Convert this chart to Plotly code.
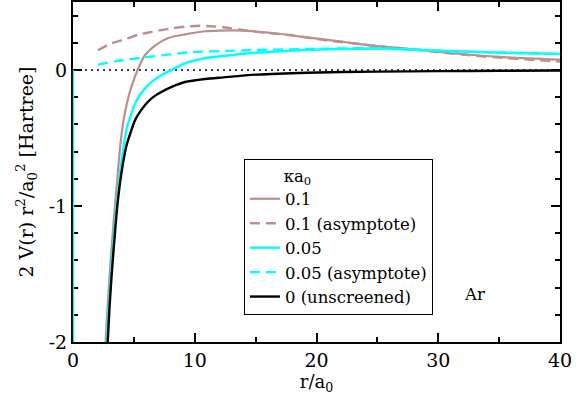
import plotly.graph_objects as go

# ---- data ----
r_k01 = [2.68, 2.83, 3.0, 3.2, 3.42, 3.68, 3.88, 4.13, 4.55, 4.96, 5.31, 5.92, 7.0, 7.83, 9.2,
         10.85, 12.0, 14.0, 16.5, 19.2, 21.9, 24.95, 27.1, 29.9, 32.6, 35.4, 40]
v_k01 = [-2.0, -1.76, -1.52, -1.27, -1.03, -0.76, -0.56, -0.38, -0.2, -0.08, 0.0, 0.11, 0.196,
         0.235, 0.262, 0.285, 0.29, 0.29, 0.27, 0.24, 0.21, 0.176, 0.16, 0.135, 0.112, 0.095, 0.077]

r_k01_asym = [2.05, 3.0, 4.27, 5.37, 6.47, 8.0, 9.2, 10.5, 12.35, 15.1, 17.8, 20.6, 22.8, 24.95,
              27.1, 29.9, 32.6, 35.4, 37.7, 40]
v_k01_asym = [0.145, 0.19, 0.226, 0.26, 0.28, 0.305, 0.318, 0.325, 0.314, 0.28, 0.257, 0.22,
              0.198, 0.176, 0.157, 0.132, 0.108, 0.088, 0.075, 0.062]

r_k005 = [0, 0.05, 2.78, 2.92, 3.1, 3.31, 3.54, 3.83, 4.1, 4.41, 4.77, 5.04, 5.3, 5.92, 6.5, 7.29,
          8.2, 9.2, 10.85, 12.35, 15.1, 19.2, 24.95, 29.9, 35.4, 40]
v_k005 = [0.0, -20.0, -2.0, -1.76, -1.52, -1.27, -1.03, -0.78, -0.6, -0.43, -0.33, -0.26, -0.213,
          -0.135, -0.085, -0.037, 0.005, 0.049, 0.086, 0.103, 0.127, 0.147, 0.158, 0.142, 0.127, 0.118]

r_k005_asym = [2.05, 3.5, 5.9, 8.0, 9.6, 12.35, 15.1, 19.2, 24.95, 29.9, 35.4, 40]
v_k005_asym = [0.04, 0.065, 0.093, 0.115, 0.13, 0.14, 0.147, 0.154, 0.16, 0.143, 0.127, 0.118]

r_k0 = [2.85, 2.99, 3.18, 3.40, 3.64, 3.94, 4.41, 4.77, 5.04, 5.3, 5.92, 6.5, 7.29, 8.2, 9.2,
        10.85, 12.35, 15.1, 19.2, 24.95, 30, 35, 40]
v_k0 = [-2.0, -1.76, -1.5, -1.25, -1.0, -0.78, -0.55, -0.45, -0.38, -0.335, -0.257, -0.205, -0.16,
        -0.12, -0.088, -0.066, -0.054, -0.034, -0.02, -0.012, -0.008, -0.006, -0.004]

zero_r = [0, 40]
zero_v = [0, 0]

x_tickvals = [0, 10, 20, 30, 40]
x_ticktext = ["0", "10", "20", "30", "40"]
y_tickvals = [-2, -1, 0]
y_ticktext = ["-2", "-1", "0"]

BROWN = "#BC8F8F"
CYAN = "#00FFFF"
FONT = "DejaVu Serif"

fig = go.Figure()
fig.add_trace(go.Scatter(x=zero_r, y=zero_v, mode="lines", showlegend=False,
                         line=dict(color="black", width=1.5, dash="2px,4px"), hoverinfo="skip"))
fig.add_trace(go.Scatter(x=r_k01, y=v_k01, mode="lines", name="0.1",
                         line=dict(color=BROWN, width=2.2, shape="spline", smoothing=0.8)))
fig.add_trace(go.Scatter(x=r_k01_asym, y=v_k01_asym, mode="lines", name="0.1 (asymptote)",
                         line=dict(color=BROWN, width=2.4, dash="10px,6px", shape="spline", smoothing=0.8)))
fig.add_trace(go.Scatter(x=r_k005, y=v_k005, mode="lines", name="0.05",
                         line=dict(color=CYAN, width=2.4, shape="spline", smoothing=0.6)))
fig.add_trace(go.Scatter(x=r_k005_asym, y=v_k005_asym, mode="lines", name="0.05 (asymptote)",
                         line=dict(color=CYAN, width=2.4, dash="10px,6px", shape="spline", smoothing=0.8)))
fig.add_trace(go.Scatter(x=r_k0, y=v_k0, mode="lines", name="0 (unscreened)",
                         line=dict(color="black", width=2.4, shape="spline", smoothing=0.8)))

axis_common = dict(showline=True, linecolor="black", linewidth=2, mirror="allticks",
                   ticks="inside", ticklen=9, tickwidth=1.5, tickcolor="black",
                   showgrid=False, zeroline=False, automargin=False,
                   tickfont=dict(family=FONT, size=19, color="black"))

fig.update_xaxes(range=[0, 40], tickmode="array", tickvals=x_tickvals, ticktext=x_ticktext,
                 minor=dict(tickmode="linear", tick0=0, dtick=5, ticks="inside", ticklen=5,
                            tickwidth=1.5, tickcolor="black"),
                 title=dict(text="r/a<sub>0</sub>", font=dict(family=FONT, size=18, color="black"),
                            standoff=0),
                 **axis_common)
fig.update_yaxes(range=[-2, 0.5], tickmode="array", tickvals=y_tickvals, ticktext=y_ticktext,
                 minor=dict(tickmode="linear", tick0=0, dtick=0.2, ticks="inside", ticklen=5,
                            tickwidth=1.5, tickcolor="black"),
                 title=dict(text="2 V(r) r<sup>2</sup>/a<sub>0</sub><sup>2</sup> [Hartree]",
                            font=dict(family=FONT, size=19, color="black"), standoff=10),
                 layer="below traces",
                 **axis_common)

fig.update_layout(
    width=584, height=397,
    margin=dict(l=73, r=24, t=2, b=55),
    plot_bgcolor="white", paper_bgcolor="white",
    font=dict(family=FONT, size=16.5, color="black"),
    legend=dict(
        x=0.351, y=0.538, xanchor="left", yanchor="top",
        bgcolor="white", bordercolor="black", borderwidth=1,
        font=dict(family=FONT, size=16.5, color="black"),
        title=dict(text="\u00a0" * 7 + "\u03baa<sub>0</sub>", font=dict(family=FONT, size=16.5)),
        tracegroupgap=0, itemwidth=30,
    ),
    annotations=[dict(text="Ar", x=0.85, y=0.105, xref="paper", yref="paper",
                      showarrow=False, font=dict(family=FONT, size=16.5, color="black"))],
)

fig.write_html("out.html", config={"displayModeBar": False},
               post_script="document.body.style.margin='0px';")
